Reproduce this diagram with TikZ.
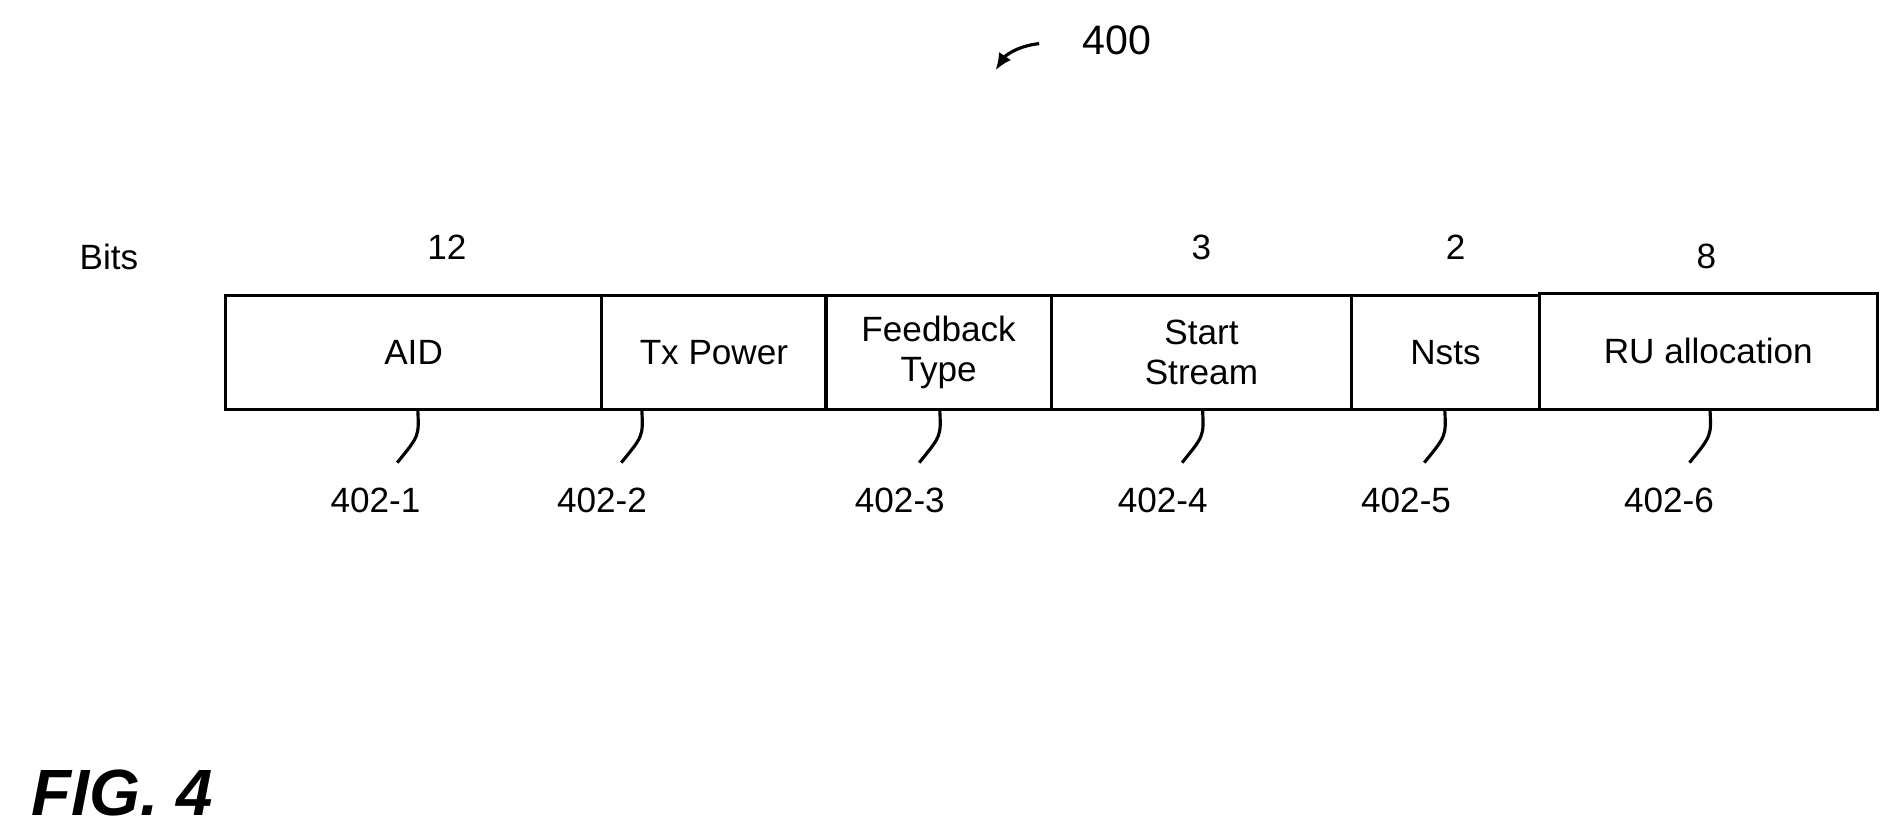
\documentclass[tikz,border=0pt]{standalone}
\usepackage{fontspec}
\setmainfont{Liberation Sans}
\usetikzlibrary{arrows.meta}
\begin{document}
\begin{tikzpicture}[x=1pt,y=-1pt,
  fld/.style={draw,line width=2.6pt,minimum height=94pt,inner sep=0pt,align=center,font=\fontsize{29}{33}\selectfont},
  lbl/.style={font=\fontsize{29}{33}\selectfont,inner sep=0pt},
  lead/.style={line width=2.6pt}]
\useasboundingbox (0,0) rectangle (1568,692);
\node[fld,minimum width=311pt] (aid) at (341.5,291) {AID};
\node[fld,minimum width=185pt] (tx) at (589.5,291) {Tx Power};
\node[fld,minimum width=186pt] (fb) at (775,291) {Feedback\\Type};
\node[fld,minimum width=248pt] (ss) at (992,291) {Start\\Stream};
\node[fld,minimum width=155pt] (ns) at (1193.5,291) {Nsts};
\node[fld,minimum width=279pt,minimum height=96pt] (ru) at (1410.5,290) {RU allocation};
\node[lbl] (bits) at (90,212) {Bits};
\node[lbl] (b1) at (369,204) {12};
\node[lbl] (b4) at (992,204) {3};
\node[lbl] (b5) at (1202,204) {2};
\node[lbl] (b6) at (1409,212) {8};
\node[lbl,font=\fontsize{34}{38}\selectfont] (n400) at (922,33) {400};
\coordinate (a1) at (858,36);
\coordinate (a2) at (822,58);
\draw[line width=2.6pt,-{Latex[length=14pt,width=12pt]}] (a1) .. controls (840,38) and (830,46) .. (a2);
\foreach \i/\n/\x/\lx in {1/aid/345/310,2/tx/530/497,3/fb/776/743,4/ss/993/960,5/ns/1193/1161,6/ru/1412/1378}{
  \node[lbl] (l\i) at (\lx,413) {402-\i};
  \coordinate (c\i) at (\x-17,382);
  \draw[lead] (\n.south -| \x,0) .. controls (\x+1,360) .. (c\i);
}
\node[lbl,font=\fontsize{54}{58}\selectfont\bfseries\itshape] (fig) at (101,655) {FIG. 4};
\end{tikzpicture}
\end{document}
